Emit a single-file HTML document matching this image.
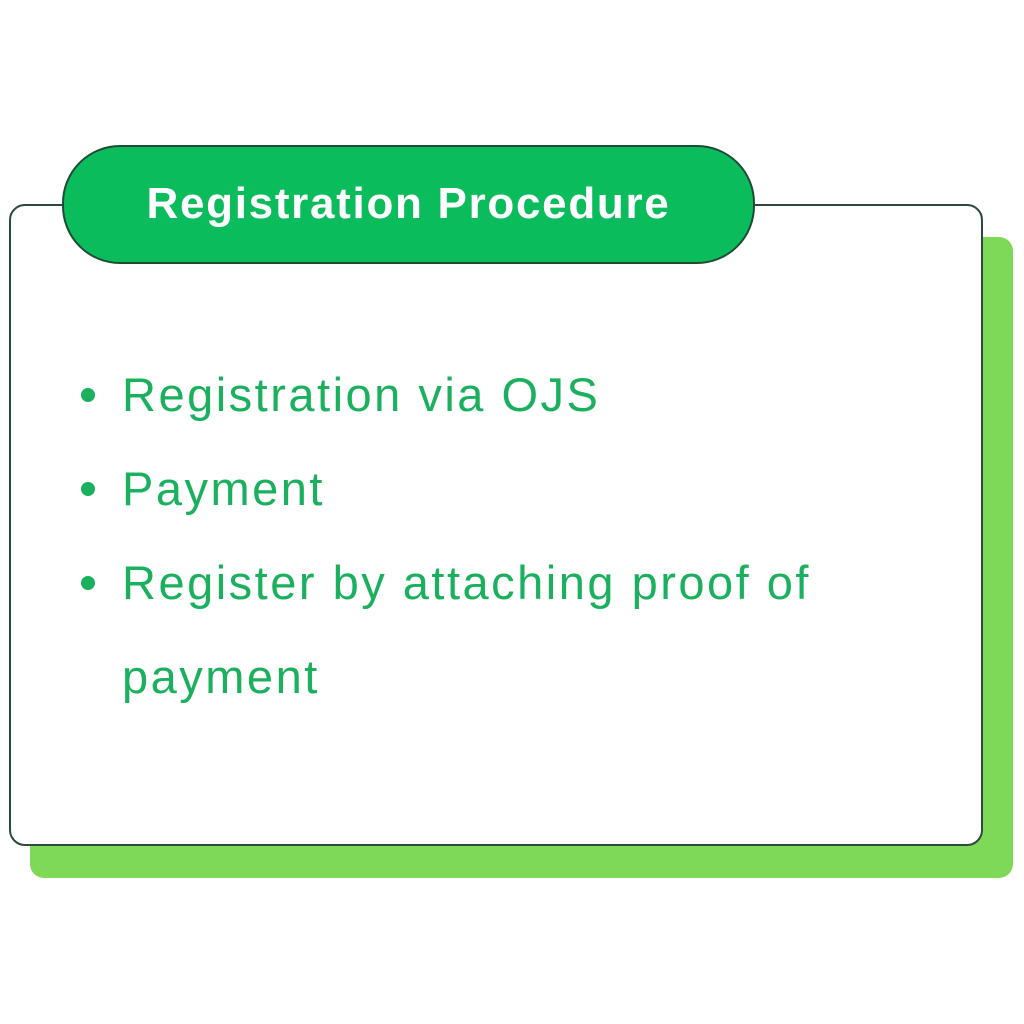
<!DOCTYPE html>
<html><head><style>
body{margin:0;width:1024px;height:1024px;background:#fff;position:relative;overflow:hidden;font-family:"Liberation Sans",sans-serif}
.sh{position:absolute;left:30px;top:237px;width:983px;height:641px;background:#7ed957;border-radius:14px}
.card{position:absolute;left:9px;top:204px;width:970px;height:638px;background:#fff;border:2px solid #2b4a3d;border-radius:16px}
.pill{position:absolute;left:62px;top:145px;width:689px;height:115px;background:#0bbc5c;border:2px solid #1f4a36;border-radius:58px;color:#fff;font-weight:bold;font-size:44px;text-align:center;line-height:113px;letter-spacing:1.7px}
.t{position:absolute;left:122px;color:#1bb05e;font-size:47px;line-height:94px;width:800px;letter-spacing:2.5px;white-space:nowrap}
.d{position:absolute;left:81px;width:14px;height:14px;border-radius:50%;background:#1bb05e}
</style></head><body>
<div class="sh"></div>
<div class="card"></div>
<div class="pill">Registration Procedure</div>
<div class="d" style="top:388px"></div>
<div class="d" style="top:482px"></div>
<div class="d" style="top:576px"></div>
<div class="t" style="top:348px">Registration via OJS<br>Payment<br>Register by attaching proof of<br>payment</div>
</body></html>
